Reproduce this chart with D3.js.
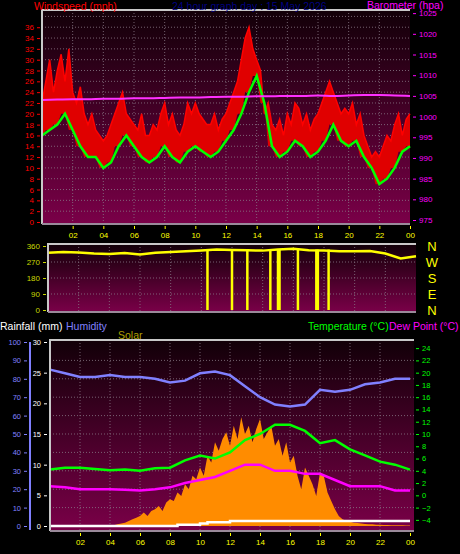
<!DOCTYPE html>
<html><head><meta charset="utf-8">
<script src="https://cdn.jsdelivr.net/npm/d3@7"></script>
<style>body{margin:0;background:#000}svg{display:block}text{font-family:"Liberation Sans",Arial,sans-serif}</style>
</head><body><svg id="chart" width="460" height="554"></svg>
<script>
// half-hourly averages (mph), gusts every 15 min
const windAvg = [16,17,18,20,17,14,12,12,10,11,14,16,14,12,11,12,14,12,11,13,14,13,12,13,15,17,20,24,27,22,14,12,13,15,14,12,13,15,18,15,14,15,12,10,7,8,10,13,14]
const windGust = [22,26,30,24,28,31,26,32, 24,22,25,20,18,20,17,16, 15,16,18,20,22,24,20,19, 18,17,20,16,16,18,17,20,
  22,18,20,17,16,18,22,20, 22,20,19,18,18,20,17,19, 20,22,24,26,30,34,36,32, 30,28,20,22,18,17,19,16,
  20,18,22,21,18,20,17,19, 20,22,24,26,24,22,20,21, 20,22,18,20,16,14,12,13, 12,14,16,15,18,20,16,19, 20]
const baro = [1004,1004.1,1004.2,1004.2,1004.3,1004.3,1004.4,1004.4,1004.5,1004.6,1004.6,1004.7,1004.8,1004.8,1004.9,1004.9,1005,1005,1005.1,1005,1005.1,1005.2,1005.2,1005.1,1005]
const windDir = [322,326,324,318,315,320,312,322,326,330,335,340,338,336,334,340,344,336,334,330,330,332,318,290,302]
const dirDrops = [10.4,12.0,13.0,14.5,15.0,15.1,16.3,17.5,17.6,18.3]
const humidity = [85,83,81,81,82,81,81,80,78,79,83,84,82,76,70,66,65,66,74,73,74,77,78,80,80]
const temperature = [4.2,4.5,4.5,4.3,4.1,4.2,4,4.4,4.5,5.7,6.5,6,7,9,10,11.5,11.5,10.5,8.5,9,7.5,6.5,5.5,5,4.2]
const dewPoint = [1.5,1.3,1,1,1,0.9,0.8,1,1.3,2,2.5,3,4,5,5,4,4,3.5,3.5,2.5,1.5,1.5,1.5,0.8,0.8]
const rainHours = [0,8.5,10,10.5,12,24]
const rainfall = [0,0.2,0.4,0.6,0.8,0.8]
const solar = [0,0,0,0,0,0,0,0,0,0,0,0,0,0,0,0,0,
  5,10,15,20,30,40,50,60,80,60,90,100,120,90,140,160,150,200,180,250,220,300,280,350,300,420,380,500,450,520,560,
  480,600,520,650,550,600,500,580,640,520,560,600,480,520,420,500,380,420,300,220,350,300,250,180,320,300,200,150,
  100,60,40,30,25,20,18,15,12,10,10,8,8,6,6,5,5,4,4,3,3]
const hourTicks = [2,4,6,8,10,12,14,16,18,20,22,24]
const compass = ['N','W','S','E','N']

const svg = d3.select('#chart')
const defs = svg.append('defs')
const grad = defs.append('linearGradient').attr('id','bg').attr('x1',0).attr('x2',0).attr('y1',0).attr('y2',1)
grad.append('stop').attr('offset','0%').attr('stop-color','#120008')
grad.append('stop').attr('offset','100%').attr('stop-color','#7a0048')

const hr = (i, n) => i * 24 / (n - 1)
const fmtH = h => d3.format('02')(h % 24)

function panel(x0, x1, y0, y1) {
  svg.append('rect').attr('x',x0).attr('y',y0).attr('width',x1-x0).attr('height',y1-y0).attr('fill','url(#bg)')
}
function grid(x, y, yt, x0, x1, y0, y1) {
  const g = svg.append('g').attr('stroke','#8a7a88').attr('stroke-dasharray','1,2').attr('stroke-width',1).attr('opacity',0.8)
  hourTicks.slice(0,-1).forEach(h => g.append('line').attr('x1',x(h)).attr('x2',x(h)).attr('y1',y0).attr('y2',y1))
  yt.forEach(v => g.append('line').attr('x1',x0).attr('x2',x1).attr('y1',y(v)).attr('y2',y(v)))
}
function frame(x0, x1, y0, y1) {
  svg.append('path').attr('d',`M${x0},${y1}V${y0}H${x1}`).attr('fill','none').attr('stroke','#c8c8c8').attr('stroke-width',2)
  svg.append('path').attr('d',`M${x0},${y1}H${x1}`).attr('fill','none').attr('stroke','#9a8a9a').attr('stroke-width',2)
}
function axis(gen, tx, color, size) {
  const g = svg.append('g').attr('transform',tx).call(gen)
  g.select('.domain').remove()
  g.selectAll('line').attr('stroke',color)
  g.selectAll('text').attr('fill',color).style('font-size',(size||8)+'px')
  return g
}
function label(x, y, color, t) {
  svg.append('text').attr('x',x).attr('y',y).attr('fill',color).style('font-size','10.5px').text(t)
}

// ---- top panel: wind + barometer
const x1 = d3.scaleLinear().domain([0,24]).range([42,410])
const yW = d3.scaleLinear().domain([0,39]).range([222,11])
const yB = d3.scaleLinear().domain([975,1026]).range([220,9])
panel(42,410,10,224)
grid(x1, yW, d3.range(2,39,2), 42, 410, 10, 224)
svg.append('path').datum(windGust).attr('fill','#e00000')
  .attr('d',d3.area().x((d,i)=>x1(hr(i,windGust.length))).y0((d,i)=>yW(windAvg[Math.round(i/2)])).y1(d=>yW(d)))
svg.append('path').datum(windGust).attr('fill','none').attr('stroke','#ff0000').attr('stroke-width',1.5)
  .attr('d',d3.line().x((d,i)=>x1(hr(i,windGust.length))).y(d=>yW(d)))
svg.append('path').datum(windAvg).attr('fill','none').attr('stroke','#00ff00').attr('stroke-width',2.5)
  .attr('d',d3.line().x((d,i)=>x1(hr(i,windAvg.length))).y(d=>yW(d)))
svg.append('path').datum(baro).attr('fill','none').attr('stroke','#ff30ff').attr('stroke-width',2)
  .attr('d',d3.line().x((d,i)=>x1(hr(i,baro.length))).y(d=>yB(d)).curve(d3.curveMonotoneX))
frame(42,410,10,224)
axis(d3.axisLeft(yW).tickValues(d3.range(0,37,2)).tickSize(3), 'translate(40,0)', '#ff0000')
axis(d3.axisRight(yB).tickValues(d3.range(975,1026,5)).tickFormat(d3.format('d')).tickSize(3), 'translate(413,0)', '#ff00ff')
axis(d3.axisBottom(x1).tickValues(hourTicks).tickFormat(fmtH).tickSize(3), 'translate(0,226)', '#ffff00')
label(34, 10, '#ff0000', 'Windspeed (mph)')
label(172, 10, '#000080', '24 hour graph day : 15 May 2026')
label(367, 9, '#ff00ff', 'Barometer (hpa)')

// ---- wind direction panel
const x2 = d3.scaleLinear().domain([0,24]).range([48,416])
const yD = d3.scaleLinear().domain([0,360]).range([310,246])
panel(48,416,244,312)
grid(x2, yD, [90,180,270], 48, 416, 244, 312)
svg.append('g').selectAll('line').data(dirDrops).join('line')
  .attr('x1',d=>x2(d)).attr('x2',d=>x2(d)).attr('y1',yD(0)).attr('y2',yD(340))
  .attr('stroke','#ffff00').attr('stroke-width',2.5)
svg.append('path').datum(windDir).attr('fill','none').attr('stroke','#ffff00').attr('stroke-width',2.5)
  .attr('d',d3.line().x((d,i)=>x2(hr(i,windDir.length))).y(d=>yD(d)))
frame(48,416,244,312)
axis(d3.axisLeft(yD).tickValues([0,90,180,270,360]).tickSize(3), 'translate(46,0)', '#c8d800')
svg.append('g').selectAll('text').data(compass).join('text')
  .attr('x',432).attr('y',(d,i)=>yD(360-i*90)+5).attr('text-anchor','middle')
  .attr('fill','#ffff00').style('font-size','13px').text(d=>d)

// ---- bottom panel
const x3 = d3.scaleLinear().domain([0,24]).range([50,410])
const yH = d3.scaleLinear().domain([0,100]).range([526,342])
const yR = d3.scaleLinear().domain([0,30]).range([526,342])
const yT = d3.scaleLinear().domain([-5,25]).range([526,342])
const yS = d3.scaleLinear().domain([0,1100]).range([526,342])
panel(50,414,340,531)
grid(x3, yH, d3.range(10,100,10), 50, 414, 340, 531)
svg.append('path').datum(solar).attr('fill','#ff8c00')
  .attr('d',d3.area().x((d,i)=>x3(hr(i,solar.length))).y0(yS(0)).y1(d=>yS(d)))
svg.append('path').datum(rainfall).attr('fill','none').attr('stroke','#ffffff').attr('stroke-width',2.5)
  .attr('d',d3.line().x((d,i)=>x3(rainHours[i])).y(d=>yR(d)).curve(d3.curveStepAfter))
svg.append('path').datum(humidity).attr('fill','none').attr('stroke','#8080ff').attr('stroke-width',2.5)
  .attr('d',d3.line().x((d,i)=>x3(hr(i,humidity.length))).y(d=>yH(d)))
svg.append('path').datum(temperature).attr('fill','none').attr('stroke','#00ff00').attr('stroke-width',2.5)
  .attr('d',d3.line().x((d,i)=>x3(hr(i,temperature.length))).y(d=>yT(d)))
svg.append('path').datum(dewPoint).attr('fill','none').attr('stroke','#ff00ff').attr('stroke-width',2.5)
  .attr('d',d3.line().x((d,i)=>x3(hr(i,dewPoint.length))).y(d=>yT(d)))
frame(50,414,340,531)
svg.append('line').attr('x1',30).attr('x2',30).attr('y1',342).attr('y2',530).attr('stroke','#8080ff').attr('stroke-width',2)
axis(d3.axisLeft(yH).tickValues(d3.range(0,101,10)).tickSize(3), 'translate(27,0)', '#8080ff', 7.5)
axis(d3.axisLeft(yR).tickValues(d3.range(0,31,5)).tickSize(3), 'translate(47,0)', '#ffffff', 7.5)
axis(d3.axisRight(yT).tickValues(d3.range(-4,25,2)).tickSize(3), 'translate(416,0)', '#00ff00', 7.5)
axis(d3.axisBottom(x3).tickValues(hourTicks).tickFormat(fmtH).tickSize(3), 'translate(0,533)', '#ffff00')
label(0, 330, '#ffffff', 'Rainfall (mm)')
label(66, 330, '#8080ff', 'Humidity')
label(118, 339, '#b0a000', 'Solar')
label(308, 330, '#00ff00', 'Temperature (°C)')
label(389, 330, '#ff00ff', 'Dew Point (°C)')
</script></body></html>
